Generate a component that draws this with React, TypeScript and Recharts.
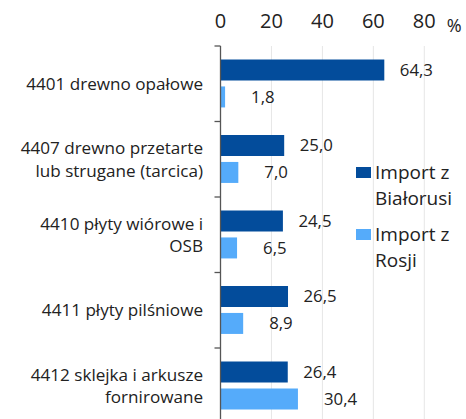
import React from 'react';
import { BarChart, Bar, XAxis, YAxis, CartesianGrid, LabelList, Legend } from 'recharts';

const categories = [
  '4401 drewno opałowe',
  '4407 drewno przetarte\nlub strugane (tarcica)',
  '4410 płyty wiórowe i\nOSB',
  '4411 płyty pilśniowe',
  '4412 sklejka i arkusze\nfornirowane',
];
const importBialorus = [64.3, 25.0, 24.5, 26.5, 26.4];
const importRosja = [1.8, 7.0, 6.5, 8.9, 30.4];
const xTicks = [0, 20, 40, 60, 80];
const seriesNames = ['Import z Białorusi', 'Import z Rosji'];

const data = categories.map((name, i) => ({
  name,
  by: importBialorus[i],
  ru: importRosja[i],
}));

const FONT = '"Open Sans", sans-serif';
const DARK = '#034c9b';
const LIGHT = '#55abfa';
const CHART_W = 466;
const CHART_H = 430;
const MARGIN = { top: 16, right: 41.7, bottom: 6.5, left: 0 };
const XAXIS_H = 30;
const PLOT_H = CHART_H - MARGIN.top - MARGIN.bottom - XAXIS_H;
const BAND = PLOT_H / categories.length;

const fmt = (v: any) => Number(v).toFixed(1).replace('.', ',');

const CategoryTick = (props: any) => {
  const { x, y, payload, index } = props;
  const lines = String(payload.value).split('\n');
  const lh = 22.5;
  const fs = 17.1;
  const startY = y - ((lines.length - 1) * lh) / 2 + fs * 0.36;
  const axisX = x + 17.5;
  return (
    <g>
      <line x1={axisX - 6} x2={axisX} y1={y - BAND / 2} y2={y - BAND / 2} stroke="#555" strokeWidth={1.3} />
      {index === categories.length - 1 && (
        <line x1={axisX - 6} x2={axisX} y1={y + BAND / 2} y2={y + BAND / 2} stroke="#555" strokeWidth={1.3} />
      )}
      <text x={x} y={startY} textAnchor="end" fontFamily={FONT} fontSize={fs} fill="#222">
        {lines.map((l, i) => (
          <tspan key={i} x={x} dy={i === 0 ? 0 : lh}>
            {l}
          </tspan>
        ))}
      </text>
    </g>
  );
};

const LegendContent = (props: any) => {
  const payload = props.payload || [];
  return (
    <div style={{ fontFamily: FONT, fontSize: 19, color: '#222', lineHeight: '25.5px' }}>
      {payload.map((p: any, i: number) => (
        <div key={i} style={{ display: 'flex', alignItems: 'flex-start', marginBottom: i === 0 ? 11 : 0 }}>
          <div style={{ width: 14.5, height: 11.7, background: p.color, marginTop: 6.5, marginRight: 4.5, flex: 'none' }} />
          <div style={{ width: 86 }}>{p.value}</div>
        </div>
      ))}
    </div>
  );
};

export default function App() {
  return (
    <div style={{ position: 'absolute', left: 0, top: 0, width: CHART_W, height: 419, overflow: 'hidden', background: '#fff' }}>
      <BarChart
        width={CHART_W}
        height={CHART_H}
        data={data}
        layout="vertical"
        margin={MARGIN}
        barCategoryGap="17.8%"
        barGap={6}
      >
        <CartesianGrid horizontal={false} stroke="#e6e6e6" strokeWidth={1} />
        <XAxis
          type="number"
          orientation="top"
          domain={[0, 80]}
          ticks={xTicks}
          height={XAXIS_H}
          axisLine={false}
          tickLine={false}
          tickSize={0}
          tickMargin={18.5}
          tick={{ fontFamily: FONT, fontSize: 20, fill: '#222' }}
          interval={0}
          label={(p: any) => {
            const vb = p.viewBox || {};
            return (
              <text x={(vb.x ?? 0) + (vb.width ?? 0) + 22.5} y={31.5} fontFamily={FONT} fontSize={18} fill="#222">
                %
              </text>
            );
          }}
        />
        <YAxis
          type="category"
          dataKey="name"
          width={220.5}
          axisLine={{ stroke: '#555', strokeWidth: 1.3 }}
          tickLine={false}
          tickSize={0}
          tickMargin={17.5}
          tick={<CategoryTick />}
          interval={0}
        />
        <Legend
          layout="horizontal"
          verticalAlign="middle"
          align="center"
          content={<LegendContent />}
          wrapperStyle={{ left: 356, top: 160, width: 110 }}
        />
        <Bar dataKey="by" name={seriesNames[0]} fill={DARK} isAnimationActive={false}>
          <LabelList dataKey="by" position="right" offset={15.5} formatter={fmt} style={{ fontFamily: FONT, fontSize: 16.8, fill: '#222' }} />
        </Bar>
        <Bar dataKey="ru" name={seriesNames[1]} fill={LIGHT} isAnimationActive={false}>
          <LabelList dataKey="ru" position="right" offset={26} formatter={fmt} style={{ fontFamily: FONT, fontSize: 16.8, fill: '#222' }} />
        </Bar>
      </BarChart>
    </div>
  );
}
